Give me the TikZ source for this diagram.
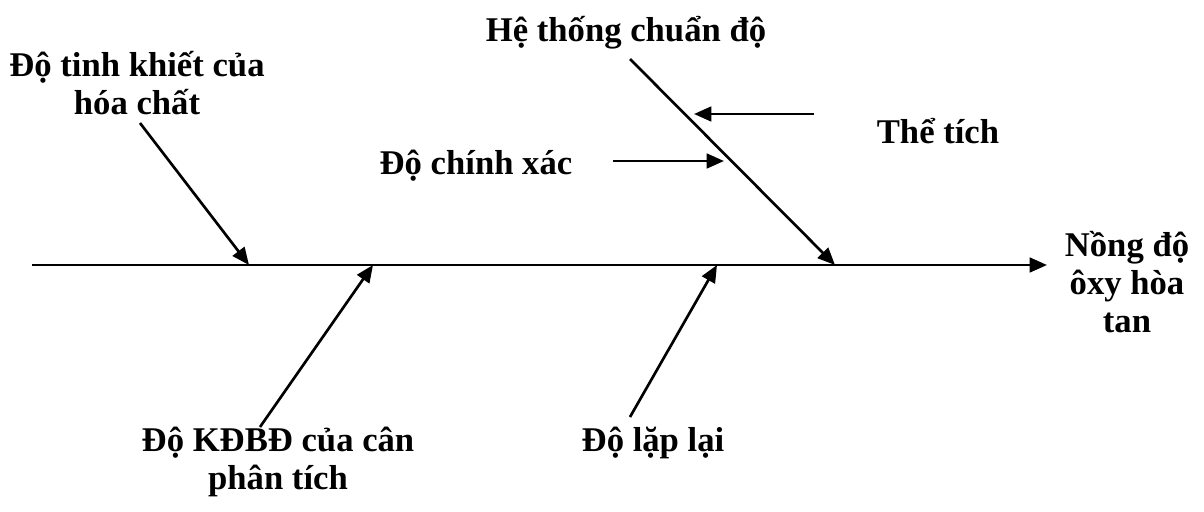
\documentclass[tikz,border=0pt]{standalone}
\usepackage{fontspec}
\setmainfont{Liberation Serif}
\usetikzlibrary{arrows.meta}
\tikzset{
    % Labels of the causes and of the effect
    cause/.style={
        font=\bfseries\fontsize{26}{28.5}\selectfont,
        align=center,
        inner sep=0pt,
        anchor=base,
    },
    % Spine and bones
    bone/.style={
        line width=2pt,
        -{Triangle[length=13pt, width=11pt]},
    },
}

\begin{document}
\begin{tikzpicture}[x=0.75pt, y=-0.75pt]
    \useasboundingbox (0,0) rectangle (1204,511);

    % Spine
    \coordinate (tail) at (32,265);
    \coordinate (head) at (1047,265);
    \node (effect) [cause] at (1127,332) {Nồng độ\\ôxy hòa\\tan};

    % Labels (base = last line)
    \node (purity) [cause] at (137,114) {Độ tinh khiết của\\hóa chất};
    \node (titration) [cause] at (626,41) {Hệ thống chuẩn độ};
    \node (volume) [cause] at (938,143) {Thể tích};
    \node (accuracy) [cause] at (476,174) {Độ chính xác};
    \node (balance) [cause] at (278,489) {Độ KĐBĐ của cân\\phân tích};
    \node (repeat) [cause] at (653,451) {Độ lặp lại};

    % Bone ends
    \coordinate (purityA) at (140,123);
    \coordinate (purityB) at (249,265);
    \coordinate (titrationA) at (630,59);
    \coordinate (titrationB) at (835,265);
    \coordinate (volumeA) at (814,114);
    \coordinate (volumeB) at (694,114);
    \coordinate (accuracyA) at (613,161);
    \coordinate (accuracyB) at (724,161);
    \coordinate (balanceA) at (260,427);
    \coordinate (balanceB) at (373,265);
    \coordinate (repeatA) at (630,417);
    \coordinate (repeatB) at (717,265);

    \draw [bone] (tail) -- (head);
    \draw [bone] (purityA) -- (purityB);
    \draw [bone] (titrationA) -- (titrationB);
    \draw [bone] (volumeA) -- (volumeB);
    \draw [bone] (accuracyA) -- (accuracyB);
    \draw [bone] (balanceA) -- (balanceB);
    \draw [bone] (repeatA) -- (repeatB);
\end{tikzpicture}
\end{document}
